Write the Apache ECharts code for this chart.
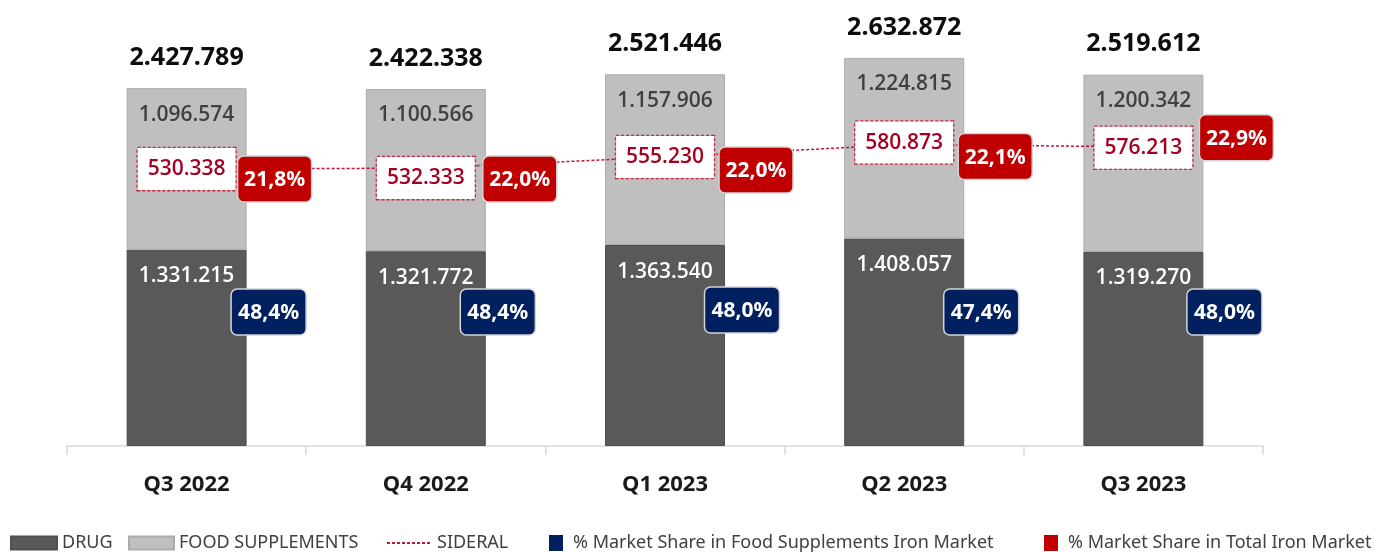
<!DOCTYPE html>
<html>
<head>
<meta charset="utf-8">
<script src="https://cdn.jsdelivr.net/npm/echarts@6/dist/echarts.min.js"></script>
<style>
  html, body { margin: 0; padding: 0; background: #ffffff; }
  #chart { width: 1378px; height: 552px; }
</style>
</head>
<body>
<div id="chart"></div>
<script>
// ---- data ----
const categories = ['Q3 2022', 'Q4 2022', 'Q1 2023', 'Q2 2023', 'Q3 2023'];
const drug = [1331215, 1321772, 1363540, 1408057, 1319270];
const foodSupplements = [1096574, 1100566, 1157906, 1224815, 1200342];
const totals = [2427789, 2422338, 2521446, 2632872, 2519612];
const sideral = [530338, 532333, 555230, 580873, 576213];
const shareFoodSuppIron = [48.4, 48.4, 48.0, 47.4, 48.0];
const shareTotalIron = [21.8, 22.0, 22.0, 22.1, 22.9];

// ---- style (label placement only) ----
const sideralLabelDy = [0, 10, 0, -2, 1];
const totalShareOffsets = [[88, 10], [94, 11], [91, 13], [91, 12], [93, -9]];
const foodShareDx = [82, 72, 77, 77, 81];
const foodShareDy = [-134, -134, -136, -134, -134];

const FONT = '"Noto Sans", "DejaVu Sans", sans-serif';
const LFONT = '"Open Sans", "Noto Sans", sans-serif';
const fmtNum = v => String(v).replace(/\B(?=(\d{3})+(?!\d))/g, '.');
const fmtPct = v => v.toFixed(1).replace('.', ',') + '%';

function boxGroup(cx, cy, w, h, fill, text) {
  return {
    type: 'group',
    children: [
      { type: 'rect', shape: { x: cx - w / 2, y: cy - h / 2, width: w, height: h, r: 6 },
        style: { fill: fill, stroke: '#d4d4d4', lineWidth: 1.5 } },
      { type: 'text', style: { text: text, x: cx, y: cy + 1, align: 'center', verticalAlign: 'middle',
        fill: '#ffffff', fontSize: 21, fontWeight: 'bold', fontFamily: FONT } }
    ]
  };
}

const chart = echarts.init(document.getElementById('chart'), null, { renderer: 'canvas' });

const legendBase = {
  top: 529,
  itemHeight: 13,
  textStyle: { fontFamily: FONT, fontSize: 18, color: '#404040' },
  selectedMode: false
};

const option = {
  backgroundColor: '#ffffff',
  animation: false,
  grid: { left: 67, right: 115, top: 33.3, bottom: 106, containLabel: false },
  xAxis: {
    type: 'category',
    data: categories,
    boundaryGap: true,
    axisLine: { lineStyle: { color: '#d9d9d9', width: 1.5 } },
    axisTick: { show: true, length: 9, alignWithLabel: false, lineStyle: { color: '#d9d9d9', width: 1.5 } },
    axisLabel: { margin: 28, fontFamily: FONT, fontSize: 22, fontWeight: 'bold', color: '#1a1a1a' }
  },
  yAxis: [
    { type: 'value', min: 0, max: 2800000, show: false, splitLine: { show: false } },
    { type: 'value', min: -40000, max: 810000, show: false, splitLine: { show: false } }
  ],
  legend: [
    Object.assign({}, legendBase, { left: 5, itemWidth: 46, data: [{ name: 'DRUG', icon: 'rect' }] }),
    Object.assign({}, legendBase, { left: 123, itemWidth: 45, data: [{ name: 'FOOD SUPPLEMENTS', icon: 'rect' }] }),
    Object.assign({}, legendBase, { left: 381, itemWidth: 45,
      itemStyle: { color: 'transparent', borderWidth: 0, opacity: 0 },
      data: [{ name: 'SIDERAL' }] }),
    Object.assign({}, legendBase, { left: 544, itemWidth: 14, itemHeight: 16,
      textStyle: Object.assign({}, legendBase.textStyle, { padding: [0, 0, 0, 5] }),
      data: [{ name: '% Market Share in Food Supplements Iron Market', icon: 'rect' }] }),
    Object.assign({}, legendBase, { left: 1039, itemWidth: 14, itemHeight: 16,
      textStyle: Object.assign({}, legendBase.textStyle, { padding: [0, 0, 0, 5] }),
      data: [{ name: '% Market Share in Total Iron Market', icon: 'rect' }] })
  ],
  series: [
    {
      name: 'DRUG', type: 'bar', stack: 'total', barWidth: 120, yAxisIndex: 0,
      data: drug,
      itemStyle: { color: '#595959', borderColor: '#4f4f4f', borderWidth: 1 },
      label: { show: true, position: 'insideTop', distance: 16, color: '#ffffff',
        fontFamily: LFONT, fontSize: 21, fontWeight: 600, formatter: p => fmtNum(p.value) }
    },
    {
      name: 'FOOD SUPPLEMENTS', type: 'bar', stack: 'total', barWidth: 120, yAxisIndex: 0,
      data: foodSupplements,
      itemStyle: { color: '#bfbfbf', borderColor: '#ababab', borderWidth: 1 },
      label: { show: true, position: 'insideTop', distance: 16, color: '#404040',
        fontFamily: LFONT, fontSize: 21, fontWeight: 600, formatter: p => fmtNum(p.value) }
    },
    {
      name: 'Total', type: 'scatter', yAxisIndex: 0, symbolSize: 0, z: 5,
      itemStyle: { opacity: 1 },
      data: totals.map((v, i) => [i, v]),
      label: { show: true, position: 'top', distance: 18, color: '#0d0d0d', opacity: 1,
        fontFamily: FONT, fontSize: 25, fontWeight: 'bold', formatter: p => fmtNum(p.value[1]) }
    },
    {
      name: 'SIDERAL', type: 'line', yAxisIndex: 1, symbol: 'none', z: 6,
      data: sideral,
      lineStyle: { color: '#c0143c', width: 1.5, type: [3, 2] },
      itemStyle: { color: '#c0143c' }
    },
    {
      name: 'SIDERAL labels', type: 'scatter', yAxisIndex: 1, symbolSize: 0, z: 7,
      itemStyle: { opacity: 1 },
      data: sideral.map((v, i) => ({ value: [i, v], label: { offset: [0, sideralLabelDy[i]] } })),
      label: { show: true, position: 'inside', color: '#a50021', backgroundColor: '#ffffff', opacity: 1,
        borderColor: '#d0213f', borderWidth: 1.3, borderType: [3, 2],
        padding: [9, 10, 9, 10], lineHeight: 24,
        fontFamily: LFONT, fontSize: 21, fontWeight: 600, formatter: p => fmtNum(p.value[1]) }
    },
    {
      name: '% Market Share in Food Supplements Iron Market', type: 'custom', yAxisIndex: 0, z: 8,
      itemStyle: { color: '#002060' },
      data: shareFoodSuppIron.map((v, i) => [i, v]),
      encode: { x: 0, y: 1 },
      renderItem: (params, api) => {
        const i = api.value(0);
        const base = api.coord([i, 0]);
        return boxGroup(base[0] + foodShareDx[i], base[1] + foodShareDy[i], 75, 46, '#002060', fmtPct(api.value(1)));
      }
    },
    {
      name: '% Market Share in Total Iron Market', type: 'custom', yAxisIndex: 1, z: 8,
      itemStyle: { color: '#c00000' },
      data: shareTotalIron.map((v, i) => [i, sideral[i], v]),
      encode: { x: 0, y: 1 },
      renderItem: (params, api) => {
        const i = api.value(0);
        const pt = api.coord([i, api.value(1)]);
        const off = totalShareOffsets[i];
        return boxGroup(pt[0] + off[0], pt[1] + off[1], 74, 46, '#c00000', fmtPct(api.value(2)));
      }
    }
  ]
};

chart.setOption(option);
</script>
</body>
</html>
